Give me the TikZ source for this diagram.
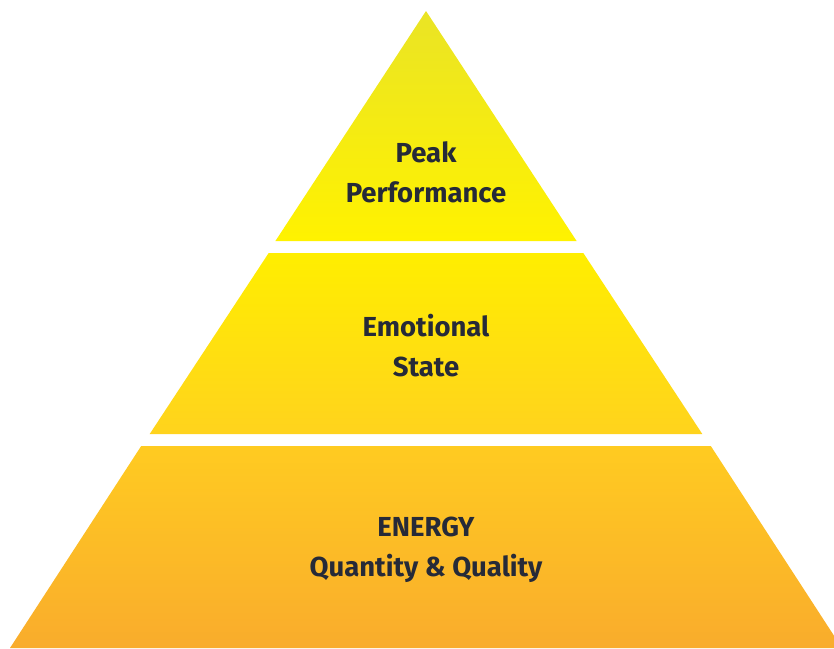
\documentclass[tikz,border=0pt]{standalone}
\usepackage{fontspec}
\setmainfont{Fira Sans}
\definecolor{txt}{HTML}{262A38}
\definecolor{aT}{HTML}{EAE425}
\definecolor{aB}{HTML}{FFF200}
\definecolor{bT}{HTML}{FFEE00}
\definecolor{bB}{HTML}{FFD31D}
\definecolor{cT}{HTML}{FFCB21}
\definecolor{cB}{HTML}{F9AC2C}
\begin{document}
\begin{tikzpicture}[x=1pt,y=-1pt,
  lbl/.style={font=\fontsize{27.5}{40}\selectfont\bfseries, text=txt, align=center}]
\useasboundingbox (0,0) rectangle (834,648);
\clip (0,0) rectangle (834,648);
% apex at (426,11), half-width per unit height = 0.652
\shade[top color=aT,bottom color=aB] (426,11) -- (576.6,241) -- (275.4,241) -- cycle;
\shade[top color=bT,bottom color=bB] (268.7,253) -- (583.3,253) -- (702.3,434) -- (149.7,434) -- cycle;
\shade[top color=cT,bottom color=cB] (141.2,446) -- (710.8,446) -- (842,648) -- (10,648) -- cycle;
\node[lbl] (peak) at (426,172) {Peak\\Performance};
\node[lbl] (emo) at (426,346) {Emotional\\State};
\node[lbl] (energy) at (426,550) {ENERGY\\Quantity \& Quality};
\end{tikzpicture}
\end{document}
